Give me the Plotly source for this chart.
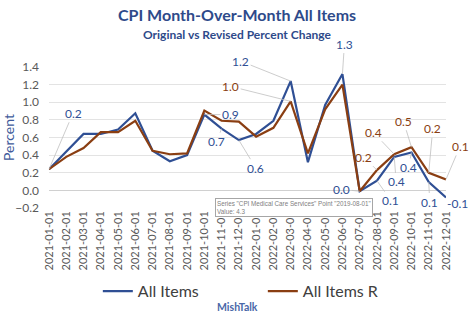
import plotly.graph_objects as go

months = ["2021-01-01","2021-02-01","2021-03-01","2021-04-01","2021-05-01","2021-06-01",
          "2021-07-01","2021-08-01","2021-09-01","2021-10-01","2021-11-01","2021-12-01",
          "2022-01-01","2022-02-01","2022-03-01","2022-04-01","2022-05-01","2022-06-01",
          "2022-07-01","2022-08-01","2022-09-01","2022-10-01","2022-11-01","2022-12-01"]
all_items = [0.24, 0.44, 0.64, 0.64, 0.69, 0.875, 0.45, 0.33, 0.40, 0.86, 0.70, 0.57,
             0.64, 0.79, 1.24, 0.32, 0.97, 1.32, -0.01, 0.11, 0.38, 0.43, 0.095, -0.08]
all_items_r = [0.24, 0.38, 0.48, 0.66, 0.66, 0.79, 0.45, 0.41, 0.42, 0.905, 0.79, 0.78,
               0.61, 0.71, 1.01, 0.42, 0.92, 1.20, -0.01, 0.23, 0.41, 0.49, 0.20, 0.125]
y_ticks = [-0.2, 0.0, 0.2, 0.4, 0.6, 0.8, 1.0, 1.2, 1.4]

BLUE = "#2F4F94"
BROWN = "#8A3E12"
FONT = "Lato"

fig = go.Figure()
fig.add_trace(go.Scatter(x=months, y=all_items, mode="lines", name="All Items",
                         line=dict(color=BLUE, width=2.2)))
fig.add_trace(go.Scatter(x=months, y=all_items_r, mode="lines", name="All Items R",
                         line=dict(color=BROWN, width=2.2)))

# data labels: (series, index, ax, ay) offsets in pixels
labels = [
    ("b", 0, 24, -56),
    ("b", 14, -50, -20),
    ("r", 14, -60, -15),
    ("b", 9, 26, 0),
    ("b", 10, -5, 13),
    ("b", 11, 17, 28),
    ("b", 17, 2, -30),
    ("b", 18, -18, -2),
    ("r", 19, -13, -13),
    ("r", 20, -21, -22),
    ("r", 21, -8, -26),
    ("r", 22, 4, -44),
    ("r", 23, 14, -33),
    ("b", 20, 2, 25),
    ("b", 21, -3, 15),
    ("b", 19, 14, 20),
    ("b", 22, 1, 20),
    ("b", 23, 11, 6),
]
for s, i, ax, ay in labels:
    v = all_items[i] if s == "b" else all_items_r[i]
    col = BLUE if s == "b" else BROWN
    txt = f"{v:.1f}"
    if txt == "-0.0":
        txt = "0.0"
    fig.add_annotation(x=months[i], y=v, text=txt, ax=ax, ay=ay, showarrow=True,
                       arrowhead=0, arrowwidth=0.8, arrowcolor="#BFBFBF",
                       font=dict(color=col, size=12, family=FONT), standoff=0,
                       startstandoff=0)

# title and subtitle
fig.add_annotation(xref="paper", yref="paper", x=0.474, y=1.369, yanchor="middle",
                   text="<b>CPI Month-Over-Month All Items</b>", showarrow=False,
                   font=dict(size=16, color="#2E4A8A", family=FONT))
fig.add_annotation(xref="paper", yref="paper", x=0.474, y=1.234, yanchor="middle",
                   text="<b>Original vs Revised Percent Change</b>", showarrow=False,
                   font=dict(size=12, color="#2E4A8A", family=FONT))

fig.update_layout(
    width=474, height=323,
    margin=dict(l=49, r=28, t=67, b=115),
    paper_bgcolor="white", plot_bgcolor="white",
    font=dict(family=FONT, color="#595959"),
    showlegend=True,
    legend=dict(orientation="h", x=0.123, xanchor="left", y=-0.59, yanchor="middle",
                font=dict(size=16, color="#404040", family=FONT),
                entrywidth=120, entrywidthmode="pixels", bgcolor="rgba(0,0,0,0)"),
    xaxis=dict(type="category", range=[0, 23], tickangle=-90, showgrid=False,
               tickfont=dict(size=11, color="#595959"), ticks="", showline=False,
               zeroline=False, automargin=False),
    yaxis=dict(range=[-0.2, 1.4], tickvals=y_ticks, tickformat=".1f",
               showgrid=True, gridcolor="#E3E3E3", gridwidth=1, zeroline=True,
               zerolinecolor="#D0D0D0", zerolinewidth=1, automargin=False,
               ticklabelstandoff=9,
               tickfont=dict(size=12, color="#595959"),
               title=dict(text="Percent", font=dict(size=14, color="#3E5A9A"), standoff=4)),
)

fig.add_annotation(xref="paper", yref="paper", x=0.474, y=-0.76, text="<b>MishTalk</b>",
                   showarrow=False, font=dict(size=10.5, color="#4A67A8", family=FONT))

fig.add_annotation(xref="x", yref="y", x=9.6, y=-0.09, xanchor="left", yanchor="top",
                   text="Series \"CPI Medical Care Services\" Point \"2019-08-01\"<br>Value: 4.3",
                   showarrow=False, align="left", bgcolor="white", bordercolor="#A6A6A6",
                   borderwidth=1, borderpad=1,
                   font=dict(size=6.3, color="#808080", family="Liberation Sans"))

fig.write_html("out.html")
